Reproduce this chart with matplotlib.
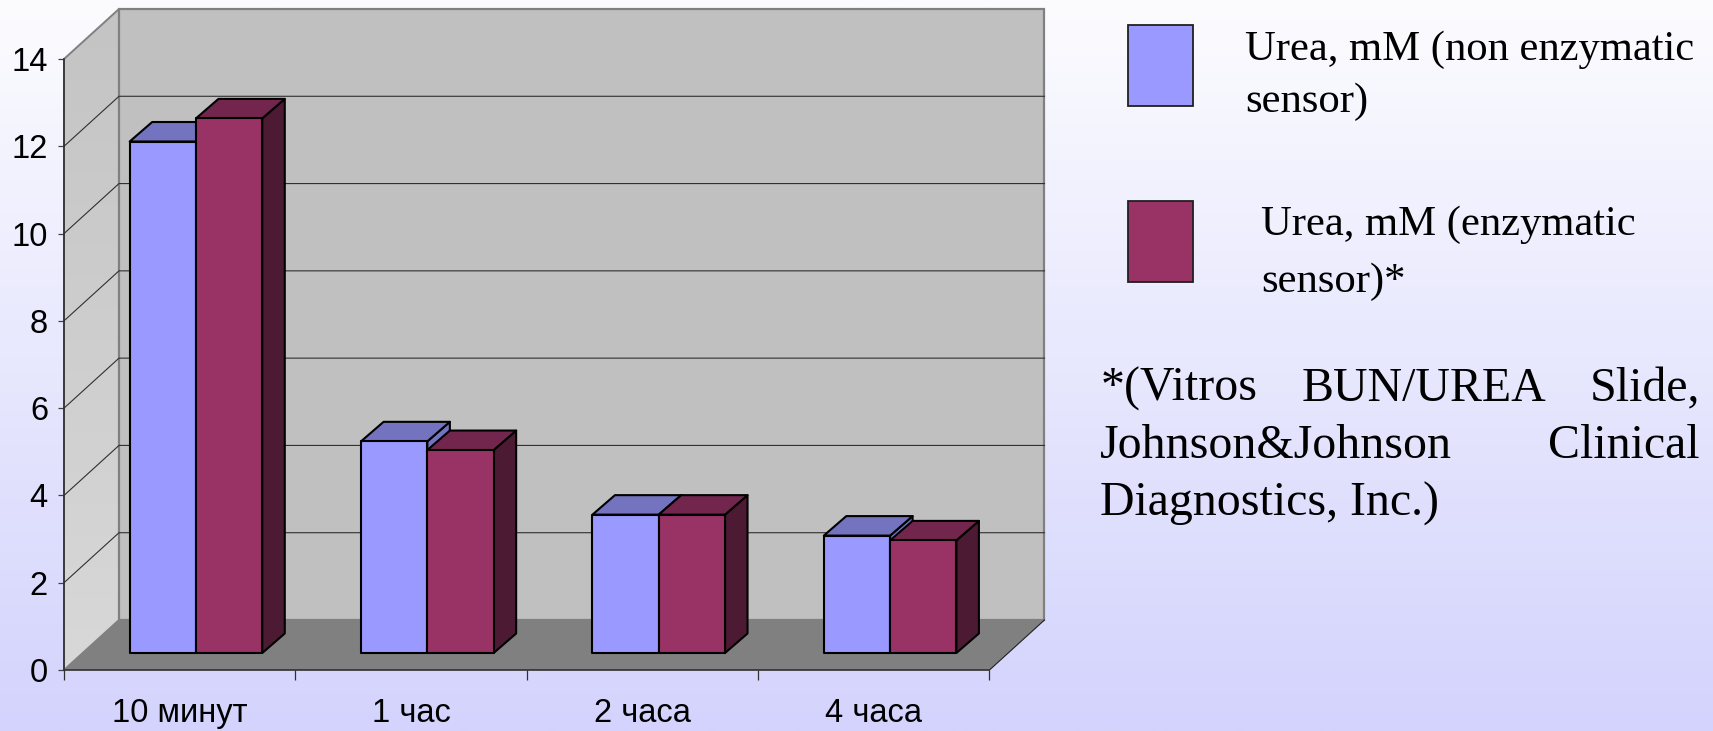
import numpy as np
import matplotlib
matplotlib.use("Agg")
import matplotlib.pyplot as plt
from matplotlib.colors import LinearSegmentedColormap
from matplotlib.patches import Polygon, Rectangle

categories = ["10 минут", "1 час", "2 часа", "4 часа"]
non_enzymatic = [11.72, 4.85, 3.17, 2.69]
enzymatic = [12.25, 4.65, 3.17, 2.58]
y_ticks = [0, 2, 4, 6, 8, 10, 12, 14]

W, H = 1713, 731
SANS = "Liberation Sans"
SERIF = "Liberation Serif"
BLUE = ["#9999FF", "#7373BF"]
RED = ["#993366", "#73264D", "#4D1A33"]

# depth of the fake 3d box, in data units (1 category = 231.4 px, 1 mM = 43.64 px)
WALL_DX, WALL_DY = 55 / 231.4, 50 / 43.64
BAR_OFF_X, BAR_OFF_Y = 16.3 / 231.4, 17 / 43.64
BAR_DX, BAR_DY = 22.5 / 231.4, 19.5 / 43.64
BAR_W = 66.3 / 231.4


def fx(px):
    return px / W


def fy(px):
    return 1 - px / H


fig = plt.figure(figsize=(W / 100, H / 100), dpi=100)

# background gradient
bg = fig.add_axes([0, 0, 1, 1], zorder=0)
bg.imshow(np.linspace(0, 1, 256).reshape(-1, 1),
          cmap=LinearSegmentedColormap.from_list("bg", ["#FCFCFF", "#D3D3FD"]),
          aspect="auto")
bg.axis("off")

ax = fig.add_axes([fx(64), fy(670), 925.5 / W, 611 / H], zorder=1)
ax.patch.set_alpha(0)
for s in ["top", "right"]:
    ax.spines[s].set_visible(False)
for s in ["left", "bottom"]:
    ax.spines[s].set_color("#303030")
    ax.spines[s].set_linewidth(1.2)
    ax.spines[s].set_zorder(6)


def poly(pts, z, **kw):
    p = Polygon(pts, closed=True, clip_on=False, zorder=z, **kw)
    ax.add_patch(p)
    return p


# walls and floor, the side wall gets lighter towards the floor
side = poly([(0, 0), (WALL_DX, WALL_DY), (WALL_DX, 14 + WALL_DY), (0, 14)], 1,
            facecolor="none", edgecolor="#808080", linewidth=1.4)
shade = ax.imshow(np.linspace(0, 1, 64).reshape(-1, 1), zorder=0.9, aspect="auto",
                  extent=(0, WALL_DX, 0, 14 + WALL_DY),
                  cmap=LinearSegmentedColormap.from_list("wall", ["#C4C4C4", "#D8D8D8"]))
shade.set_clip_box(fig.bbox)
shade.set_clip_path(side)
ax.set_xlim(0, 4)
ax.set_ylim(0, 14)
poly([(WALL_DX, WALL_DY), (4 + WALL_DX, WALL_DY), (4 + WALL_DX, 14 + WALL_DY), (WALL_DX, 14 + WALL_DY)], 1,
     facecolor="#C0C0C0", edgecolor="#808080", linewidth=1.6)
poly([(0, 0), (4, 0), (4 + WALL_DX, WALL_DY), (WALL_DX, WALL_DY)], 2,
     facecolor="#808080", edgecolor="none")
ax.plot([4, 4 + WALL_DX], [0, WALL_DY], color="#202020", lw=0.8, clip_on=False, zorder=3)

# gridlines
for v in y_ticks[1:-1]:
    ax.plot([0, WALL_DX, 4 + WALL_DX], [v, v + WALL_DY, v + WALL_DY],
            color="#303030", lw=0.8, clip_on=False, zorder=2)


def draw_bar(left, value, colors, side_color, z):
    x0 = left + BAR_OFF_X
    y0 = BAR_OFF_Y
    x1 = x0 + BAR_W
    top = y0 + value
    style = dict(edgecolor="black", linewidth=1.5, joinstyle="round")
    poly([(x1, y0), (x1 + BAR_DX, y0 + BAR_DY), (x1 + BAR_DX, top + BAR_DY), (x1, top)], z,
         facecolor=side_color, **style)
    poly([(x0, top), (x1, top), (x1 + BAR_DX, top + BAR_DY), (x0 + BAR_DX, top + BAR_DY)], z,
         facecolor=colors[1], **style)
    ax.bar(x0, value, width=BAR_W, bottom=y0, align="edge", color=colors[0],
           clip_on=False, zorder=z, **style)


for i in range(len(categories)):
    gap = (1 - 2 * BAR_W) / 2
    draw_bar(i + gap, non_enzymatic[i], BLUE, BLUE[1], 4)
    draw_bar(i + gap + BAR_W, enzymatic[i], RED, RED[2], 5)

# axis ticks and labels
ax.set_yticks(y_ticks)
ax.set_xticks(range(5))
ax.set_xticklabels([])
ax.set_xticks(np.arange(4) + 0.5, labels=categories, minor=True)
ax.tick_params(axis="y", length=4.6, width=0.9, color="#404040", pad=7, labelsize=23.5)
ax.tick_params(axis="x", which="major", length=7.5, width=0.9, color="#303030")
ax.tick_params(axis="x", which="minor", length=0, pad=20, labelsize=23.5)
for lab in ax.get_yticklabels() + ax.get_xminorticklabels():
    lab.set_family(SANS)


# legend, built by hand because the text wraps oddly in the original
def legend_box(top, color):
    fig.add_artist(Rectangle((fx(1127.5), fy(top + 81)), 65 / W, 81 / H, transform=fig.transFigure,
                             facecolor=color, edgecolor="#202020", linewidth=1.3))


def label(x, y, s, ha="left", size=30.7):
    fig.text(fx(x), fy(y), s, family=SERIF, fontsize=size, color="black", ha=ha, va="baseline")


legend_box(25, BLUE[0])
legend_box(201, RED[0])
label(1245, 60, "Urea, mM (non enzymatic")
label(1245, 112, "sensor)")
label(1261, 235, "Urea, mM (enzymatic")
label(1261, 292, "sensor)*")

# justified note
label(1101, 401, "*(Vitros", size=34.5)
label(1302, 401, "BUN/UREA", size=34.5)
label(1700, 401, "Slide,", ha="right", size=34.5)
label(1100, 458, "Johnson&Johnson", size=34.5)
label(1700, 458, "Clinical", ha="right", size=34.5)
label(1100, 516, "Diagnostics, Inc.)", size=34.5)

fig.savefig("out.png", dpi=100)
